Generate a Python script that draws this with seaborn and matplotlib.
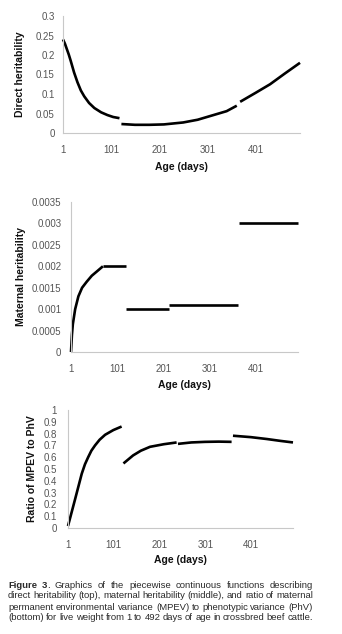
import pandas as pd
import matplotlib
matplotlib.use("Agg")
import matplotlib.pyplot as plt
import seaborn as sns

# x axis ticks shared by all panels
age_ticks = [1, 101, 201, 301, 401]

# top panel: direct heritability, three pieces
direct_p1_age = [1, 5, 9, 13, 17, 24, 31, 38, 45, 55, 66, 80, 93, 105, 118]
direct_p1_val = [0.24, 0.229, 0.215, 0.201, 0.185, 0.155, 0.13, 0.109, 0.094, 0.077, 0.064, 0.053, 0.046, 0.041, 0.038]
direct_p2_age = [122, 150, 180, 210, 250, 280, 310, 340, 361]
direct_p2_val = [0.023, 0.021, 0.021, 0.022, 0.027, 0.034, 0.045, 0.056, 0.07]
direct_p3_age = [368, 400, 430, 460, 492]
direct_p3_val = [0.08, 0.103, 0.125, 0.152, 0.18]

# middle panel: maternal heritability, five pieces
maternal_p1_age = [1, 3, 5, 10, 17, 25, 35, 46, 57, 70]
maternal_p1_val = [0.0, 0.0004, 0.00065, 0.001, 0.0013, 0.0015, 0.00164, 0.00178, 0.00188, 0.002]
maternal_p2_age = [70, 120]
maternal_p2_val = [0.002, 0.002]
maternal_p3_age = [120, 212]
maternal_p3_val = [0.001, 0.001]
maternal_p4_age = [212, 362]
maternal_p4_val = [0.0011, 0.0011]
maternal_p5_age = [364, 492]
maternal_p5_val = [0.003, 0.003]

# bottom panel: ratio of MPEV to PhV, four pieces
ratio_p1_age = [1, 16, 31, 38, 45, 52, 60, 70, 82, 100, 118]
ratio_p1_val = [0.017, 0.237, 0.46, 0.54, 0.6, 0.655, 0.7, 0.748, 0.79, 0.83, 0.86]
ratio_p2_age = [122, 143, 160, 180, 210, 238]
ratio_p2_val = [0.547, 0.615, 0.655, 0.688, 0.71, 0.725]
ratio_p3_age = [241, 270, 300, 330, 358]
ratio_p3_val = [0.713, 0.725, 0.73, 0.732, 0.73]
ratio_p4_age = [361, 400, 435, 465, 492]
ratio_p4_val = [0.782, 0.77, 0.754, 0.738, 0.725]

caption_lines = [
    [("Figure 3", True), (". Graphics of the piecewise continuous functions describing", False)],
    [("direct heritability (top), maternal heritability (middle), and ratio of maternal", False)],
    [("permanent environmental variance (MPEV) to phenotypic variance (PhV)", False)],
    [("(bottom) for live weight from 1 to 492 days of age in crossbred beef cattle.", False)],
]


def pieces_frame(pieces):
    rows = []
    for i, (ages, vals) in enumerate(pieces):
        for a, v in zip(ages, vals):
            rows.append({"age": a, "value": v, "piece": i})
    return pd.DataFrame(rows)


sns.set_style("white")
plt.rcParams["font.family"] = ["Liberation Sans", "DejaVu Sans"]

W, H = 342, 634
fig = plt.figure(figsize=(W / 100, H / 100), dpi=100)


def px_axes(left, right, top, bottom):
    return fig.add_axes([left / W, 1 - bottom / H, (right - left) / W, (bottom - top) / H])


def style_panel(ax, ylim, yticks, ylabel, ylab_x, xlab_gap, ypad):
    ax.set_xlim(1, 492)
    ax.set_ylim(*ylim)
    ax.set_xticks(age_ticks)
    ax.set_xticklabels([str(t) for t in age_ticks])
    ax.set_yticks(yticks)
    ax.set_yticklabels([("%g" % t) for t in yticks])
    ax.tick_params(axis="both", length=0, labelsize=7, labelcolor="#555555")
    ax.tick_params(axis="x", pad=8.5)
    ax.tick_params(axis="y", pad=ypad)
    for s in ["top", "right"]:
        ax.spines[s].set_visible(False)
    for s in ["left", "bottom"]:
        ax.spines[s].set_color("#c8c8c8")
        ax.spines[s].set_linewidth(0.8)
    ax.set_xlabel("Age (days)", fontsize=7.5, fontweight="bold", color="#111111")
    ax.set_ylabel(ylabel, fontsize=7.5, fontweight="bold", color="#111111")
    ax.xaxis.label.set_va("center")
    ax.yaxis.label.set_va("center")
    ax.xaxis.set_label_coords(0.5, xlab_gap)
    ax.yaxis.set_label_coords(ylab_x, 0.5)


def draw(ax, pieces):
    df = pieces_frame(pieces)
    sns.lineplot(data=df, x="age", y="value", units="piece", estimator=None,
                 color="black", linewidth=1.9, ax=ax, legend=False)
    for line in ax.lines:
        line.set_clip_on(False)
        line.set_solid_capstyle("butt")
        line.set_solid_joinstyle("round")


# top panel
ax1 = px_axes(63, 300, 16, 133)
draw(ax1, [(direct_p1_age, direct_p1_val), (direct_p2_age, direct_p2_val),
           (direct_p3_age, direct_p3_val)])
style_panel(ax1, (0, 0.3), [0, 0.05, 0.1, 0.15, 0.2, 0.25, 0.3],
            "Direct heritability", -0.182, -34 / 117, 6)

# middle panel
ax2 = px_axes(71, 298, 202, 352)
draw(ax2, [(maternal_p1_age, maternal_p1_val), (maternal_p2_age, maternal_p2_val),
           (maternal_p3_age, maternal_p3_val), (maternal_p4_age, maternal_p4_val),
           (maternal_p5_age, maternal_p5_val)])
style_panel(ax2, (0, 0.0035), [0, 0.0005, 0.001, 0.0015, 0.002, 0.0025, 0.003, 0.0035],
            "Maternal heritability", -50 / 227, -33 / 150, 7)

# bottom panel
ax3 = px_axes(68, 293, 410, 528)
draw(ax3, [(ratio_p1_age, ratio_p1_val), (ratio_p2_age, ratio_p2_val),
           (ratio_p3_age, ratio_p3_val), (ratio_p4_age, ratio_p4_val)])
style_panel(ax3, (0, 1), [0, 0.1, 0.2, 0.3, 0.4, 0.5, 0.6, 0.7, 0.8, 0.9, 1],
            "Ratio of MPEV to PhV", -36 / 225, -32 / 118, 8)

# caption, justified between x=8 and x=313 px
fig.canvas.draw()
renderer = fig.canvas.get_renderer()
cap_left, cap_right = 8, 313
cap_size = 6.8
cap_color = "#2a2a2a"
line_y = [585, 596, 607, 618]


def text_width(s, bold):
    t = fig.text(0, 0, s, fontsize=cap_size, fontweight="bold" if bold else "normal")
    w = t.get_window_extent(renderer).width
    t.remove()
    return w


for segs, y in zip(caption_lines, line_y):
    # split into words, keep bold flags; a word may have several parts
    words = []
    for text, bold in segs:
        parts = text.split(" ")
        for j, p in enumerate(parts):
            if j == 0 and words and not text.startswith(" "):
                words[-1].append((p, bold))
            elif p:
                words.append([(p, bold)])
    widths = [sum(text_width(p, b) for p, b in w) for w in words]
    gap = (cap_right - cap_left - sum(widths)) / max(len(words) - 1, 1)
    x = cap_left
    for w, ww in zip(words, widths):
        xx = x
        for p, b in w:
            fig.text(xx / W, 1 - y / H, p, fontsize=cap_size,
                     fontweight="bold" if b else "normal", color=cap_color,
                     va="center", ha="left")
            xx += text_width(p, b)
        x += ww + gap

fig.savefig("out.png", dpi=100)
